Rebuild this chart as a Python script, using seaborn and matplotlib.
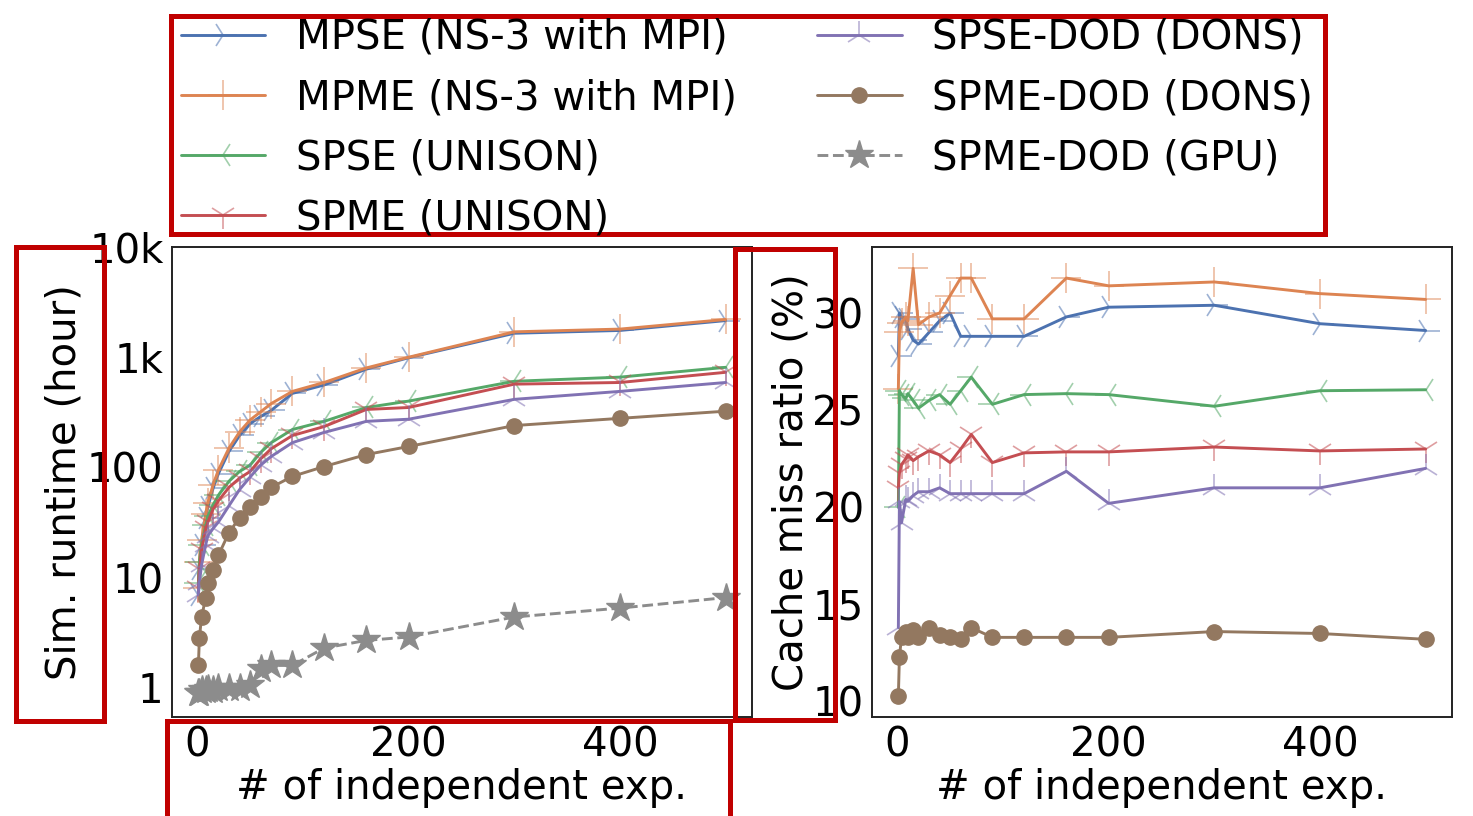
import matplotlib
matplotlib.use("Agg")
import matplotlib.pyplot as plt
import seaborn as sns
import numpy as np
import pandas as pd
from matplotlib.patches import Rectangle
from matplotlib.colors import to_rgba

# ---------------- data ----------------
exps = [1, 2, 4, 8, 10, 15, 20, 30, 40, 50, 60, 70, 90, 120, 160, 200, 300, 400, 500]

series_labels = [
    "MPSE (NS-3 with MPI)",
    "MPME (NS-3 with MPI)",
    "SPSE (UNISON)",
    "SPME (UNISON)",
    "SPSE-DOD (DONS)",
    "SPME-DOD (DONS)",
    "SPME-DOD (GPU)",
]

# Simulation runtime (hours), left panel
runtime_mpse = [7, 12, 20, 35, 44, 65, 88, 140, 195, 250, 290, 330, 470, 560, 780, 990, 1650, 1750, 2150]
runtime_mpme = [8, 14, 22, 38, 48, 70, 95, 150, 210, 270, 320, 380, 490, 590, 800, 1000, 1700, 1800, 2200]
runtime_spse = [9, 14, 20, 30, 36, 46, 56, 75, 92, 105, 137, 168, 221, 262, 350, 400, 605, 660, 810]
runtime_spme = [8, 12, 18, 28, 32, 42, 50, 66, 80, 92, 120, 148, 195, 235, 336, 350, 570, 590, 730]
runtime_spse_dod = [7, 9, 13, 20, 24, 28, 32, 45, 63, 82, 105, 126, 168, 208, 262, 274, 415, 490, 590]
runtime_spme_dod = [1.6, 2.85, 4.4, 6.6, 9.0, 11.8, 16, 25.7, 35, 44, 54, 66, 83, 102, 131, 155, 240, 279, 324]
runtime_gpu = [0.9, 0.9, 0.96, 0.96, 0.98, 0.96, 1.0, 1.0, 1.0, 1.06, 1.5, 1.6, 1.6, 2.3, 2.7, 2.9, 4.4, 5.3, 6.6]

# Cache miss ratio (%), right panel
cache_mpse = [27.8, 30.0, 29.8, 29.7, 29.2, 28.6, 28.4, 29.0, 29.6, 30.0, 28.8, 28.8, 28.8, 28.8, 29.8, 30.3, 30.4, 29.45, 29.1]
cache_mpme = [26.1, 29.0, 29.5, 29.8, 29.6, 32.3, 29.4, 29.8, 30.0, 30.9, 31.8, 31.8, 29.7, 29.7, 31.8, 31.4, 31.6, 31.0, 30.7]
cache_spse = [20.0, 26.0, 25.8, 25.6, 25.85, 25.5, 25.1, 25.5, 25.8, 25.3, 26.0, 26.7, 25.3, 25.8, 25.85, 25.8, 25.2, 26.0, 26.05]
cache_spme = [21.0, 21.75, 22.2, 22.5, 22.7, 22.4, 22.6, 22.9, 22.7, 22.3, 23.0, 23.75, 22.3, 22.8, 22.85, 22.85, 23.1, 22.9, 23.0]
cache_spse_dod = [13.8, 20.3, 19.2, 20.4, 20.3, 20.6, 20.8, 20.8, 21.0, 20.7, 20.7, 20.7, 20.7, 20.7, 21.85, 20.2, 21.0, 21.0, 22.0]
cache_spme_dod = [10.3, 12.3, 13.3, 13.6, 13.3, 13.7, 13.3, 13.8, 13.4, 13.3, 13.2, 13.8, 13.3, 13.3, 13.3, 13.3, 13.6, 13.5, 13.2]

runtime_ticks = [1, 10, 100, 1000, 10000]
runtime_tick_labels = ["1", "10", "100", "1k", "10k"]
cache_ticks = [10, 15, 20, 25, 30]
x_ticks = [0, 200, 400]

# ---------------- style ----------------
sns.set_theme(style="white")
plt.rcParams["font.family"] = ["DejaVu Sans"]
plt.rcParams["text.color"] = "black"
plt.rcParams["axes.labelcolor"] = "black"
plt.rcParams["xtick.color"] = "black"
plt.rcParams["ytick.color"] = "black"
FS = 29

pal = sns.color_palette("deep")
colors = [pal[0], pal[1], pal[2], pal[3], pal[4], pal[5], pal[7]]
markers = ["4", "+", "3", "1", "2", "o", "*"]
msizes = [20, 22, 20, 20, 20, 11, 21]
lstyles = ["-", "-", "-", "-", "-", "-", "--"]

fig = plt.figure(figsize=(14.73, 8.16), dpi=100)
ax1 = fig.add_axes([172 / 1473, 1 - 717 / 816, 580 / 1473, 470 / 816])
ax2 = fig.add_axes([872 / 1473, 1 - 717 / 816, 580 / 1473, 470 / 816])

def draw(ax, i, vals):
    c = colors[i]
    filled = markers[i] in ("o", "*")
    mec = c if filled else to_rgba(c, 0.55)
    sns.lineplot(
        x=exps, y=vals, ax=ax, color=c, errorbar=None, sort=False,
        marker=markers[i], markersize=msizes[i],
        markeredgewidth=1.0 if filled else 1.2,
        markeredgecolor=mec, markerfacecolor=c,
        linestyle=lstyles[i], linewidth=2.1, label=series_labels[i],
    )

left_vals = [runtime_mpse, runtime_mpme, runtime_spse, runtime_spme,
             runtime_spse_dod, runtime_spme_dod, runtime_gpu]
right_vals = [cache_mpse, cache_mpme, cache_spse, cache_spme,
              cache_spse_dod, cache_spme_dod]

for i, v in enumerate(left_vals):
    draw(ax1, i, v)
for i, v in enumerate(right_vals):
    draw(ax2, i, v)

for ax in (ax1, ax2):
    lg = ax.get_legend()
    if lg is not None:
        lg.remove()
    for s in ax.spines.values():
        s.set_color("#222222")
        s.set_linewidth(1.4)
    ax.tick_params(axis="both", labelsize=FS, length=0, pad=6)
    ax.set_xticks(x_ticks)
    ax.set_xlabel("# of independent exp.", fontsize=FS, labelpad=2)

ax1.set_yscale("log")
ax1.set_ylim(0.545, 10000)
ax1.set_yticks(runtime_ticks)
ax1.set_yticklabels(runtime_tick_labels)
ax1.minorticks_off()
ax1.set_ylabel("Sim. runtime (hour)", fontsize=FS, labelpad=2)

ax2.set_yticks(cache_ticks)
ax2.set_ylabel("Cache miss ratio (%)", fontsize=FS, labelpad=1)

handles, labs = ax1.get_legend_handles_labels()
fig.legend(handles, labs, loc="center", bbox_to_anchor=(0.507, 0.843),
           ncol=2, frameon=False, fontsize=FS, handlelength=2.1,
           handletextpad=0.75, columnspacing=2.0, labelspacing=0.5,
           borderpad=0.2)

# red highlight boxes (annotations in the reference)
W, H = 1473, 816
def box(x0, y0, x1, y1):
    fig.add_artist(Rectangle((x0 / W, 1 - y1 / H), (x1 - x0) / W, (y1 - y0) / H,
                             transform=fig.transFigure, fill=False,
                             edgecolor="#C00000", linewidth=3.6, clip_on=False))

box(171, 16, 1325, 234)
box(16, 247, 104, 721)
box(735, 249, 835, 720)
box(167, 721, 730, 820)

fig.savefig("out.png", dpi=100)
